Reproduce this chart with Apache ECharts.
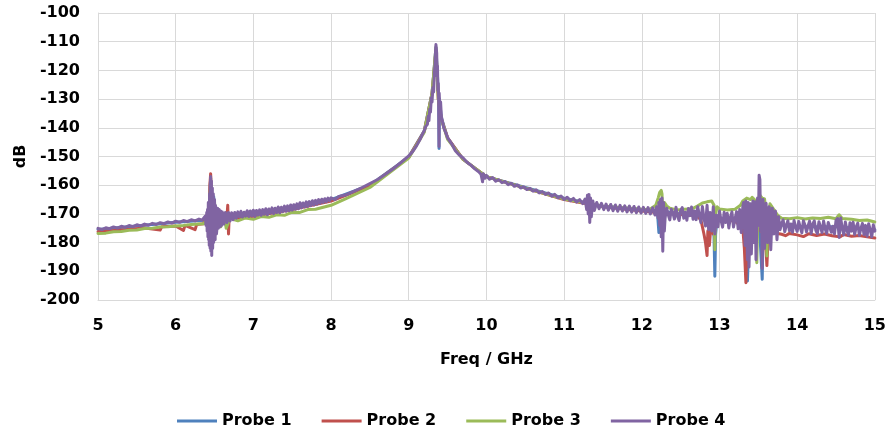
<!DOCTYPE html>
<html>
<head>
<meta charset="utf-8">
<script src="https://cdn.jsdelivr.net/npm/echarts@6/dist/echarts.min.js"></script>
<style>
html,body{margin:0;padding:0;background:#fff;}
#chart{width:889px;height:432px;}
</style>
</head>
<body>
<div id="chart"></div>
<script>
// ---- Data (frequency in GHz, level in dB) ----
const xTicks = [5, 6, 7, 8, 9, 10, 11, 12, 13, 14, 15];
const yTicks = [-200, -190, -180, -170, -160, -150, -140, -130, -120, -110, -100];
const seriesNames = ['Probe 1', 'Probe 2', 'Probe 3', 'Probe 4'];

// Probe 1 (blue)
const probe1Freq = [5.0, 5.5, 6.0, 6.36, 6.40, 6.42, 6.44, 6.45, 6.46, 6.47, 6.49, 6.50, 6.55, 6.60, 6.70, 6.80,
  7.0, 7.5, 8.0, 8.5, 9.0, 9.2, 9.3, 9.35, 9.37, 9.385, 9.39, 9.395, 9.42, 9.5, 9.7, 10.0, 10.5, 11.0, 11.5, 12.0,
  12.2, 12.22, 12.24, 12.5, 12.9, 12.93, 12.94, 12.95, 12.97, 13.2, 13.33, 13.36, 13.38, 13.45, 13.52, 13.55, 13.56,
  13.6, 13.7, 14.0, 14.5, 15.0];
const probe1Db = [-175.4, -174.2, -172.9, -172.2, -171, -175, -162, -157.5, -170, -182, -164, -176, -169, -171, -170.5, -170.5,
  -170.0, -167.8, -165.0, -160.0, -150.2, -141.0, -128, -112, -122, -130, -147.2, -130, -136.5, -143.5, -151.0, -157.0, -160.8, -164.5, -167.3, -168.5,
  -169.0, -176.5, -169.0, -170.0, -171.0, -178, -191.7, -177, -171.5, -172.0, -176, -193.4, -177, -174, -177, -192.8, -178,
  -174, -173.5, -174.5, -174.5, -175.5];

// Probe 2 (red)
const probe2Freq = [5.0, 5.3, 5.6, 5.8, 5.82, 6.0, 6.1, 6.12, 6.25, 6.27, 6.36, 6.41, 6.43, 6.44, 6.45, 6.46, 6.47, 6.49,
  6.51, 6.55, 6.60, 6.66, 6.67, 6.68, 6.69, 6.75, 6.8, 7.0, 7.5, 8.0, 8.5, 9.0, 9.2, 9.3, 9.35, 9.38, 9.42, 9.5, 9.7,
  10.0, 10.5, 11.0, 11.5, 12.0, 12.3, 12.5, 12.7, 12.76, 12.8, 12.82, 12.84, 12.85, 12.87, 12.89, 12.92, 12.95, 13.0,
  13.2, 13.3, 13.32, 13.34, 13.35, 13.37, 13.45, 13.5, 13.57, 13.6, 13.61, 13.62, 13.64, 13.7, 13.75, 13.8, 13.85, 13.9,
  14.0, 14.08, 14.15, 14.25, 14.35, 14.45, 14.55, 14.6, 14.7, 14.8, 14.9, 15.0];
const probe2Db = [-176.2, -175.6, -174.9, -175.6, -174.5, -174.2, -175.8, -174.0, -175.5, -173.7, -173.4, -170, -176, -160, -156, -163, -178, -166,
  -175, -169, -173, -171, -167, -177, -170, -172, -171.5, -170.8, -168.5, -165.5, -160.2, -150.3, -141.2, -128, -113, -130, -137, -143.5, -151,
  -157.0, -161.0, -165.0, -167.5, -169.0, -169.8, -170.2, -170.5, -172, -177, -180, -184.5, -176, -181, -174, -177, -172.5, -172,
  -172.5, -175, -182, -194, -183, -176, -174, -175, -177, -183, -188, -182, -176, -175, -176.8, -177.1, -177.6, -176.8,
  -177.3, -177.9, -176.9, -177.5, -177.0, -177.6, -178.0, -177.2, -177.8, -177.5, -178.0, -178.4];

// Probe 3 (green)
const probe3Freq = [5.0, 5.1, 5.2, 5.3, 5.4, 5.5, 5.6, 5.7, 5.8, 5.9, 6.0, 6.1, 6.2, 6.3, 6.36, 6.40, 6.42, 6.44, 6.45,
  6.46, 6.47, 6.48, 6.50, 6.52, 6.55, 6.58, 6.62, 6.65, 6.70, 6.75, 6.8, 6.9, 7.0, 7.1, 7.2, 7.3, 7.4, 7.5, 7.6, 7.7,
  7.8, 8.0, 8.2, 8.5, 9.0, 9.2, 9.3, 9.35, 9.38, 9.42, 9.5, 9.7, 10.0, 10.5, 11.0, 11.3, 11.5, 12.0, 12.1, 12.18,
  12.21, 12.23, 12.25, 12.26, 12.27, 12.28, 12.29, 12.32, 12.36, 12.45, 12.55, 12.65, 12.72, 12.78, 12.84, 12.90,
  12.93, 12.94, 12.95, 12.97, 13.0, 13.1, 13.2, 13.27, 13.3, 13.35, 13.4, 13.42, 13.45, 13.47, 13.48, 13.49, 13.5,
  13.52, 13.55, 13.58, 13.6, 13.61, 13.62, 13.65, 13.7, 13.75, 13.8, 13.9, 14.0, 14.1, 14.2, 14.3, 14.4, 14.5, 14.54,
  14.58, 14.7, 14.8, 14.9, 15.0];
const probe3Db = [-176.8, -176.7, -176.2, -176.1, -175.7, -175.6, -175.1, -175.0, -174.6, -174.5, -174.2, -174.0, -173.7, -173.5, -173.4, -172, -176, -165, -160,
  -168, -163, -176, -166, -175, -168.5, -174.5, -170, -175, -171.5, -172, -172.4, -171.4, -171.9, -170.9, -171.2, -170.3, -170.5, -169.4, -169.5, -168.5,
  -168.4, -167.0, -164.6, -160.8, -150.5, -141.5, -128, -112, -130, -137, -144, -151, -157, -161, -164.8, -166.3, -167.3, -168.4, -168.5, -167.0,
  -164.5, -162.5, -161.8, -163, -170, -175, -166, -167.2, -168.0, -168.6, -168.4, -168.2, -167.2, -166.2, -165.8, -165.5,
  -167, -182.5, -170, -167.5, -168.3, -168.6, -168.4, -167, -165.5, -164.5, -165, -164.2, -165, -175, -187, -176, -165,
  -163.5, -164.5, -164.8, -170, -184.7, -172, -166.5, -168.5, -170.5, -171.5, -171.7, -171.3, -171.8, -171.4, -171.6, -171.2, -171.7, -170.3,
  -171.6, -171.9, -172.3, -172.1, -172.8];

// Probe 4 (purple)
const probe4Freq = [5.00, 5.05, 5.10, 5.15, 5.20, 5.25, 5.30, 5.35, 5.40, 5.45, 5.50, 5.55, 5.60, 5.65, 5.70, 5.75, 5.80,
  5.85, 5.90, 5.95, 6.00, 6.05, 6.10, 6.15, 6.20, 6.25, 6.30, 6.34,
  6.36, 6.38, 6.39, 6.40, 6.405, 6.41, 6.415, 6.42, 6.424, 6.428, 6.432, 6.436, 6.44, 6.443, 6.446, 6.45, 6.453, 6.456,
  6.46, 6.464, 6.468, 6.472, 6.476, 6.48, 6.484, 6.488, 6.492, 6.496, 6.50, 6.504, 6.508, 6.512, 6.516, 6.52, 6.525,
  6.53, 6.54, 6.55, 6.56, 6.57, 6.58, 6.59, 6.60,
  6.62, 6.64, 6.66, 6.68, 6.70, 6.72, 6.74, 6.76, 6.78,
  6.80, 6.82, 6.84, 6.86, 6.88, 6.90, 6.92, 6.94, 6.96, 6.98, 7.00, 7.02, 7.04, 7.06, 7.08, 7.10, 7.12, 7.14, 7.16,
  7.18, 7.20, 7.22, 7.24, 7.26, 7.28, 7.30, 7.32, 7.34, 7.36, 7.38, 7.40, 7.42, 7.44, 7.46, 7.48, 7.50, 7.52, 7.54,
  7.56, 7.58, 7.60, 7.62, 7.64, 7.66, 7.68, 7.70, 7.72, 7.74, 7.76, 7.78, 7.80, 7.82, 7.84, 7.86, 7.88, 7.90, 7.92,
  7.94, 7.96, 7.98, 8.00, 8.05, 8.10, 8.20, 8.30, 8.40, 8.50, 8.60, 8.70, 8.80, 8.90, 9.00, 9.05, 9.10, 9.15,
  9.20, 9.22, 9.24, 9.25, 9.26, 9.27, 9.28, 9.29, 9.30, 9.31, 9.32, 9.33, 9.34, 9.345, 9.35, 9.355, 9.36, 9.365, 9.37,
  9.375, 9.38, 9.385, 9.39, 9.392, 9.40, 9.41, 9.42, 9.43, 9.45, 9.48, 9.50, 9.55, 9.60, 9.65, 9.70, 9.75, 9.80, 9.85,
  9.90, 9.93, 9.95, 9.96, 9.98,
  10.00, 10.04, 10.08, 10.12, 10.16, 10.20, 10.24, 10.28, 10.32, 10.36, 10.40, 10.44, 10.48, 10.52, 10.56, 10.60, 10.64,
  10.68, 10.72, 10.76, 10.80, 10.84, 10.88, 10.92, 10.96, 11.00, 11.04, 11.08, 11.12, 11.16, 11.20, 11.24,
  11.27, 11.29, 11.30, 11.31, 11.32, 11.33, 11.34, 11.35, 11.37, 11.39,
  11.42, 11.45, 11.48, 11.51, 11.54, 11.57, 11.60, 11.63, 11.66, 11.69, 11.72, 11.75, 11.78, 11.81, 11.84, 11.87, 11.90,
  11.93, 11.96, 11.99, 12.02, 12.05, 12.08, 12.11, 12.14, 12.17,
  12.19, 12.21, 12.22, 12.23, 12.24, 12.25, 12.26, 12.27, 12.28, 12.29,
  12.30, 12.32, 12.34, 12.36, 12.38, 12.40, 12.42, 12.44, 12.46, 12.48, 12.50, 12.52, 12.54, 12.56, 12.58, 12.60, 12.62,
  12.64, 12.66, 12.68, 12.70, 12.72, 12.74, 12.76, 12.78, 12.80, 12.82, 12.84, 12.86, 12.88, 12.90, 12.92, 12.94, 12.96,
  12.98, 13.00, 13.02, 13.04, 13.06, 13.08, 13.10, 13.12, 13.14, 13.16, 13.18, 13.20, 13.22, 13.24, 13.26, 13.28, 13.30,
  13.31, 13.33, 13.34, 13.36, 13.37, 13.38, 13.40, 13.41, 13.43, 13.44, 13.46, 13.47, 13.49, 13.50, 13.51, 13.52, 13.53,
  13.54, 13.55, 13.56, 13.58, 13.60, 13.62, 13.64, 13.66, 13.68, 13.70, 13.72, 13.74,
  13.76, 13.78, 13.80, 13.82, 13.84, 13.86, 13.88, 13.90, 13.92, 13.94, 13.96, 13.98, 14.00, 14.02, 14.04, 14.06, 14.08,
  14.10, 14.12, 14.14, 14.16, 14.18, 14.20, 14.22, 14.24, 14.26, 14.28, 14.30, 14.32, 14.34, 14.36, 14.38, 14.40, 14.42,
  14.44, 14.46, 14.48, 14.50, 14.52, 14.54, 14.56, 14.58, 14.60, 14.62, 14.64, 14.66, 14.68, 14.70, 14.72, 14.74, 14.76,
  14.78, 14.80, 14.82, 14.84, 14.86, 14.88, 14.90, 14.92, 14.94, 14.96, 14.98, 15.00];
const probe4Db = [-175.05, -175.45, -174.85, -175.15, -174.55, -174.95, -174.3, -174.7, -174.05, -174.45, -173.8, -174.2, -173.55, -173.95, -173.3, -173.7, -173.05,
  -173.45, -172.8, -173.2, -172.55, -172.95, -172.3, -172.7, -172.05, -172.45, -171.8, -172.2,
  -172.2, -170.8, -174.0, -169.5, -176, -168.5, -178, -166, -179, -171, -181, -163, -174, -182, -160, -157, -183, -176,
  -158.5, -184.5, -167, -161, -182, -170, -163, -180, -166, -178, -165, -173, -179, -167, -176, -170, -177,
  -175.5, -168, -175, -168.5, -174.5, -169, -174, -169.3,
  -173.5, -169.5, -173, -169.5, -172.5, -169.6, -172, -169.5, -171.5,
  -169.3, -171.0, -169.1, -171.1, -169.4, -170.8, -168.9, -170.9, -169.0, -170.7, -168.7, -170.9, -168.8, -170.4, -168.6, -170.5, -168.5, -170.1, -168.2,
  -170.3, -168.3, -169.8, -167.9, -169.9, -168.0, -169.5, -167.6, -169.6, -167.7, -169.2, -167.3, -169.1, -167.2, -168.9, -166.9, -168.7, -166.8, -168.4,
  -166.5, -168.2, -166.1, -167.9, -166.2, -167.6, -165.8, -167.4, -165.7, -167.1, -165.4, -166.9, -165.3, -166.6, -165.0, -166.3, -164.9, -166.0, -164.7,
  -165.7, -164.5, -165.4, -164.4, -165.0, -163.9, -163.3, -162.1, -160.8, -159.4, -158.0, -156.2, -154.3, -152.1, -149.8, -148.3, -146.3, -143.8,
  -141.0, -139.5, -138.8, -136.0, -137.5, -133.5, -134.5, -129.5, -131.0, -126.0, -127.5, -121.0, -117.0, -113.0, -111.0, -111.5, -114.0, -122.0, -118.5,
  -127.0, -124.5, -131.0, -146.5, -128.0, -133.0, -131.0, -136.0, -136.5, -140.0, -142.0, -143.5, -145.5, -148.0, -149.5, -150.5, -152.0, -153.0, -154.3,
  -155.3, -156.2, -158.8, -156.0, -157.6,
  -156.6, -157.9, -157.3, -158.6, -158.1, -159.1, -158.7, -159.8, -159.3, -160.4, -159.9, -161.0, -160.6, -161.5, -161.1, -162.1, -161.6,
  -162.7, -162.2, -163.2, -162.7, -163.8, -163.2, -164.4, -163.8, -165.0, -164.2, -165.4, -164.6, -165.9, -165.0, -166.4,
  -164.8, -168.5, -163.5, -170, -163.2, -173, -164.5, -171, -165.5, -168.8,
  -166.0, -168.2, -166.3, -168.5, -166.6, -168.7, -166.7, -168.9, -166.9, -169.1, -167.0, -169.0, -167.2, -169.3, -167.3, -169.4, -167.4,
  -169.6, -167.6, -169.7, -167.7, -169.8, -167.8, -170.0, -167.9, -170.4,
  -167.5, -171.5, -166, -174, -165, -178, -164.5, -183, -166, -176,
  -171.4, -168.0, -170.2, -172.1, -168.4, -169.6, -171.8, -167.7, -170.8, -172.3, -168.9, -167.8, -171.5, -169.4, -172.2, -168.1, -170.6,
  -167.6, -171.9, -169.0, -172.0, -167.5, -170.4, -173.0, -167.4, -171.5, -174.2, -167.0, -175.5, -169.5, -176.0, -167.5, -177.0, -170.5,
  -174.5, -169.0, -172.3, -174.6, -169.4, -173.0, -169.8, -174.9, -171.2, -169.3, -174.6, -171.8, -169.2, -175.2, -168.5, -176.5, -167.5,
  -166, -181, -165.5, -186, -166, -188.5, -166.5, -184, -165.5, -180, -165.8, -186, -164.5, -174, -156.5, -158, -176,
  -165.5, -189, -165, -182, -166.3, -180, -167.5, -182.5, -168, -177, -169, -179,
  -171.0, -175.5, -173.2, -172.1, -176.2, -174.0, -172.4, -175.9, -173.5, -176.4, -172.3, -174.6, -176.1, -172.6, -174.8, -176.6, -172.4,
  -173.9, -176.3, -174.2, -172.5, -176.8, -173.6, -172.4, -175.7, -176.9, -172.7, -174.5, -176.5, -172.5, -175.2, -176.8, -173.0, -172.4,
  -176.4, -174.3, -177.0, -172.3, -171.6, -178.2, -171.4, -175.0, -177.3, -172.8, -175.6, -177.4, -173.1, -176.0, -172.9, -177.2, -174.5,
  -173.2, -177.5, -175.1, -173.3, -177.2, -174.0, -177.8, -173.4, -175.6, -178.0, -173.8, -176.0];

const colors = ['#4F81BD', '#C0504D', '#9BBB59', '#8064A2'];
const freqs = [probe1Freq, probe2Freq, probe3Freq, probe4Freq];
const levels = [probe1Db, probe2Db, probe3Db, probe4Db];

const FONT = 'DejaVu Sans';
const chart = echarts.init(document.getElementById('chart'), null, {renderer: 'canvas'});

const series = seriesNames.map((name, i) => ({
  name: name,
  type: 'line',
  data: freqs[i].map((f, j) => [f, levels[i][j]]),
  showSymbol: false,
  symbol: 'none',
  sampling: null,
  lineStyle: {color: colors[i], width: 3, join: 'round', cap: 'round'},
  itemStyle: {color: colors[i]},
  animation: false,
  z: 2 + i
}));

chart.setOption({
  backgroundColor: '#ffffff',
  animation: false,
  grid: {left: 98, right: 13, top: 13, bottom: 132, containLabel: false},
  xAxis: {
    type: 'value',
    min: xTicks[0],
    max: xTicks[xTicks.length - 1],
    interval: 1,
    name: 'Freq / GHz',
    nameLocation: 'middle',
    nameGap: 52,
    nameTextStyle: {fontFamily: FONT, fontWeight: 'bold', fontSize: 16, color: '#000'},
    axisLine: {show: true, lineStyle: {color: '#d9d9d9', width: 1}},
    axisTick: {show: false},
    axisLabel: {margin: 18, fontFamily: FONT, fontWeight: 'bold', fontSize: 16, color: '#000'},
    splitLine: {show: true, lineStyle: {color: '#d9d9d9', width: 1}}
  },
  yAxis: {
    type: 'value',
    min: yTicks[0],
    max: yTicks[yTicks.length - 1],
    interval: 10,
    name: 'dB',
    nameLocation: 'middle',
    nameGap: 64,
    nameTextStyle: {fontFamily: FONT, fontWeight: 'bold', fontSize: 16, color: '#000'},
    axisLine: {show: true, lineStyle: {color: '#d9d9d9', width: 1}},
    axisTick: {show: false},
    axisLabel: {margin: 18, fontFamily: FONT, fontWeight: 'bold', fontSize: 16, color: '#000'},
    splitLine: {show: true, lineStyle: {color: '#d9d9d9', width: 1}}
  },
  legend: {
    data: seriesNames,
    left: 172,
    top: 408,
    icon: 'rect',
    itemWidth: 40,
    itemHeight: 3,
    itemGap: 30,
    textStyle: {fontFamily: FONT, fontWeight: 'bold', fontSize: 16, color: '#000'}
  },
  series: series
});
</script>
</body>
</html>
